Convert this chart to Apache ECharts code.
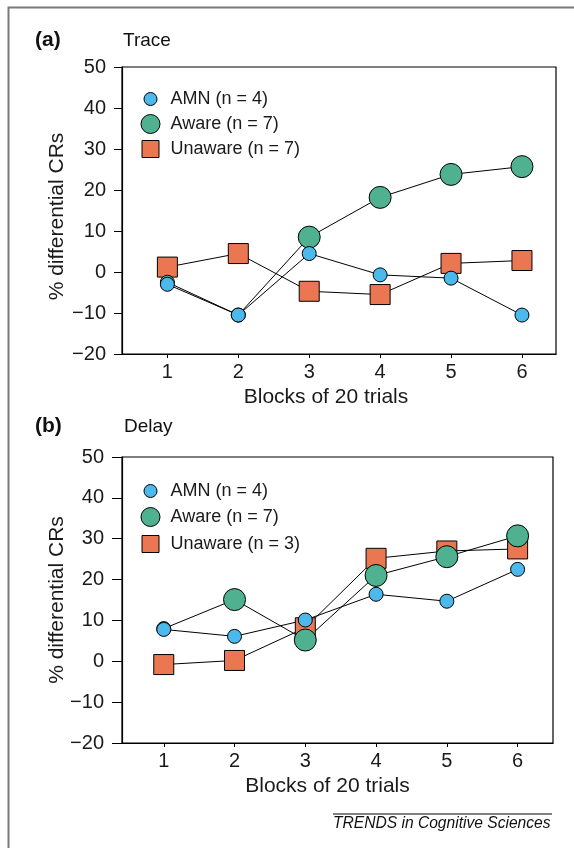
<!DOCTYPE html>
<html>
<head>
<meta charset="utf-8">
<script src="https://cdn.jsdelivr.net/npm/echarts@6/dist/echarts.min.js"></script>
<style>
  html, body { margin: 0; background: #fff; }
  #chart { width: 574px; height: 848px; }
</style>
</head>
<body>
<div id="chart"></div>
<script>
// values
const blocks = [1, 2, 3, 4, 5, 6]
const traceAmn = [-3, -10.5, 4.5, -0.7, -1.5, -10.5]
const traceAware = [-2.5, -10.5, 8.5, 18.2, 23.8, 25.7]
const traceUnaware = [1.2, 4.5, -4.7, -5.5, 2.1, 2.8]
const delayAmn = [7.8, 6.1, 10.1, 16.4, 14.7, 22.5]
const delayAware = [8, 15.1, 5.2, 21, 25.6, 30.7]
const delayUnaware = [-0.8, 0.2, 8.2, 25.2, 27, 27.5]

const amnName = 'AMN (n = 4)'
const awareName = 'Aware (n = 7)'
const unawareTraceName = 'Unaware (n = 7)'
const unawareDelayName = 'Unaware (n = 3)'

const FONT = 'Liberation Sans, Arial, Helvetica, sans-serif'
const BLUE = '#4cb9ec'
const GREEN = '#4fb18f'
const ORANGE = '#ea7752'
const SQUARE = 'path://M0,0L10,0L10,10L0,10Z'

function pairs (ys) {
  return blocks.map((b, i) => [b, ys[i]])
}

function xAxis (idx, min, max, shift) {
  return {
    type: 'value',
    gridIndex: idx,
    min: min,
    max: max,
    splitLine: { show: false },
    axisLine: { onZero: false, lineStyle: { color: '#000', width: 1.2 } },
    axisTick: { customValues: blocks, length: 4, lineStyle: { color: '#000' } },
    axisLabel: { customValues: blocks, margin: 8, fontSize: 20, color: '#1a1a1a', fontFamily: FONT },
    name: 'Blocks of 20 trials',
    nameLocation: 'middle',
    nameGap: 33,
    nameMoveOverlap: false,
    nameTextStyle: { fontSize: 21, color: '#1a1a1a', fontFamily: FONT, padding: [0, shift * 2, 0, 0] }
  }
}

function yAxis (idx, tickLen, shift) {
  return {
    type: 'value',
    gridIndex: idx,
    min: -20,
    max: 50,
    interval: 10,
    splitLine: { show: false },
    axisLine: { show: true, onZero: false, lineStyle: { color: '#000', width: 1.2 } },
    axisTick: { show: true, length: tickLen, lineStyle: { color: '#000' } },
    axisLabel: {
      margin: tickLen + 8,
      fontSize: 20,
      color: '#1a1a1a',
      fontFamily: FONT,
      formatter: v => String(v).replace('-', '\u2212')
    },
    name: '% differential CRs',
    nameLocation: 'middle',
    nameGap: 54,
    nameMoveOverlap: false,
    nameTextStyle: { fontSize: 21, color: '#1a1a1a', fontFamily: FONT, padding: [0, shift * 2, 0, 0] }
  }
}

// an Aware circle that sits right on an AMN point is drawn no bigger than it
function awareSize (amn) {
  return (val, params) => Math.abs(val[1] - amn[params.dataIndex]) < 1.2 ? 14 : 22
}

function line (name, idx, ys, symbol, size, fill) {
  return {
    name: name,
    type: 'line',
    xAxisIndex: idx,
    yAxisIndex: idx,
    data: pairs(ys),
    symbol: symbol,
    symbolSize: size,
    showAllSymbol: true,
    lineStyle: { color: '#000', width: 1 },
    itemStyle: { color: fill, borderColor: '#000', borderWidth: 1 },
    emphasis: { disabled: true }
  }
}

function legendItem (name, icon, h, fill, centerY) {
  return {
    left: 150 - h / 2,
    top: centerY - 10,
    padding: 0,
    itemWidth: 30,
    itemHeight: h,
    itemGap: 0,
    selectedMode: false,
    textStyle: { fontSize: 18, lineHeight: 20, color: '#1a1a1a', fontFamily: FONT },
    data: [{ name: name, icon: icon, itemStyle: { color: fill, borderColor: '#000', borderWidth: 1 } }]
  }
}

const chart = echarts.init(document.getElementById('chart'))

const option = {
  animation: false,
  backgroundColor: '#fff',
  grid: [
    { left: 122, top: 67, width: 434, height: 287, show: true, borderColor: '#000', borderWidth: 1.2, backgroundColor: 'transparent' },
    { left: 122, top: 457, width: 431, height: 286, show: true, borderColor: '#000', borderWidth: 1.2, backgroundColor: 'transparent' }
  ],
  xAxis: [xAxis(0, 0.36, 6.48, 13), xAxis(1, 0.41, 6.5, 10)],
  yAxis: [yAxis(0, 8, 6), yAxis(1, 10, 0)],
  legend: [
    legendItem(amnName, 'circle', 13, BLUE, 99),
    legendItem(awareName, 'circle', 19, GREEN, 124),
    legendItem(unawareTraceName, SQUARE, 17, ORANGE, 149),
    legendItem(amnName, 'circle', 13, BLUE, 491),
    legendItem(awareName, 'circle', 19, GREEN, 517),
    legendItem(unawareDelayName, SQUARE, 17, ORANGE, 544)
  ],
  series: [
    line(unawareTraceName, 0, traceUnaware, 'rect', 20, ORANGE),
    line(awareName, 0, traceAware, 'circle', awareSize(traceAmn), GREEN),
    line(amnName, 0, traceAmn, 'circle', 14, BLUE),
    line(unawareDelayName, 1, delayUnaware, 'rect', 20, ORANGE),
    line(awareName, 1, delayAware, 'circle', awareSize(delayAmn), GREEN),
    line(amnName, 1, delayAmn, 'circle', 14, BLUE)
  ],
  graphic: [
    // figure frame: left and top edges
    { type: 'polyline', shape: { points: [[8.5, 848], [8.5, 7.5], [574, 7.5]] }, style: { fill: null, stroke: '#7a7a7a', lineWidth: 2 } },
    { type: 'text', left: 35, top: 30, style: { text: '(a)', fontSize: 21, fontWeight: 'bold', fill: '#111', fontFamily: FONT } },
    { type: 'text', left: 123, top: 31, style: { text: 'Trace', fontSize: 19, fill: '#111', fontFamily: FONT } },
    { type: 'text', left: 35, top: 416, style: { text: '(b)', fontSize: 21, fontWeight: 'bold', fill: '#111', fontFamily: FONT } },
    { type: 'text', left: 124, top: 417, style: { text: 'Delay', fontSize: 19, fill: '#111', fontFamily: FONT } },
    { type: 'line', shape: { x1: 333, y1: 814, x2: 552, y2: 814 }, style: { stroke: '#000', lineWidth: 1 } },
    { type: 'text', left: 333, top: 816, style: { text: 'TRENDS in Cognitive Sciences', fontSize: 15.6, fontStyle: 'italic', fill: '#111', fontFamily: FONT } }
  ]
}

chart.setOption(option)
</script>
</body>
</html>
